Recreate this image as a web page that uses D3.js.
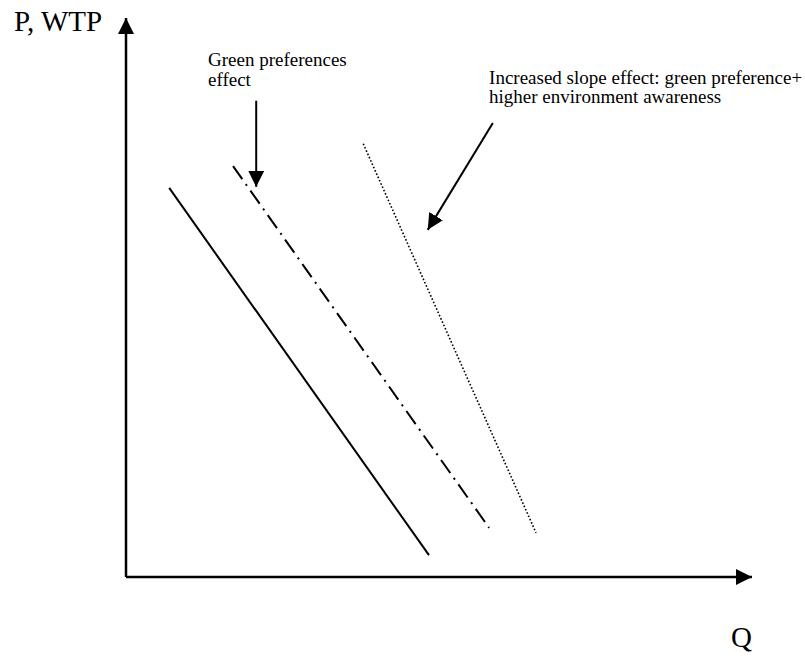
<!DOCTYPE html>
<html>
<head>
<meta charset="utf-8">
<script src="https://cdn.jsdelivr.net/npm/d3@7"></script>
<style>
  body { margin: 0; background: #fff; }
  text { font-family: "Liberation Serif", "Times New Roman", serif; fill: #000; }
</style>
</head>
<body>
<div class="content"></div>
<script>
const w = 805;
const h = 661;

// abstract units: Q and P both 0..100
const demandSolid = [[6.9, 69.6], [48.4, 3.9]];
const demandGreen = [[17.1, 73.5], [58.0, 8.8]];
const demandSlope = [[37.9, 77.5], [65.5, 7.9]];

const arrows = [
  [[20.8, 85.2], [20.8, 69.8]],
  [[58.6, 81.2], [48.2, 62.1]]
];

const notes = [
  { x: 13.1, y: 91.4, lines: ['Green preferences', 'effect'] },
  { x: 58.0, y: 88.2, lines: ['Increased slope effect: green preference+', 'higher environment awareness'] }
];

const svg = d3.select('.content').append('svg')
  .attr('width', w)
  .attr('height', h);

const xScale = d3.scaleLinear().domain([0, 100]).range([126, 752]);
const yScale = d3.scaleLinear().domain([0, 100]).range([577, 18]);

const defs = svg.append('defs');
defs.append('marker')
  .attr('id', 'head')
  .attr('markerUnits', 'userSpaceOnUse')
  .attr('viewBox', '0 0 16 16')
  .attr('refX', 16)
  .attr('refY', 8)
  .attr('markerWidth', 16)
  .attr('markerHeight', 16)
  .attr('orient', 'auto')
  .append('path')
  .attr('d', 'M0,0 L16,8 L0,16 Z')
  .attr('fill', '#000');

const line = d3.line()
  .x((d) => xScale(d[0]))
  .y((d) => yScale(d[1]));

// axes
svg.append('path')
  .attr('d', line([[0, 0], [0, 100]]))
  .attr('stroke', '#000')
  .attr('stroke-width', 2.5)
  .attr('fill', 'none')
  .attr('marker-end', 'url(#head)');

svg.append('path')
  .attr('d', line([[0, 0], [100, 0]]))
  .attr('stroke', '#000')
  .attr('stroke-width', 2.5)
  .attr('fill', 'none')
  .attr('marker-end', 'url(#head)');

svg.append('text')
  .attr('x', 14)
  .attr('y', 31)
  .style('font-size', '29px')
  .text('P, WTP');

svg.append('text')
  .attr('x', 731)
  .attr('y', 647)
  .style('font-size', '29px')
  .text('Q');

// demand curves
svg.append('path')
  .attr('d', line(demandSolid))
  .attr('stroke', '#000')
  .attr('stroke-width', 2)
  .attr('fill', 'none');

svg.append('path')
  .attr('d', line(demandGreen))
  .attr('stroke', '#000')
  .attr('stroke-width', 2)
  .attr('stroke-dasharray', '16,6,2,6')
  .attr('fill', 'none');

svg.append('path')
  .attr('d', line(demandSlope))
  .attr('stroke', '#000')
  .attr('stroke-width', 1.6)
  .attr('stroke-dasharray', '1.6,2')
  .attr('fill', 'none');

// annotation arrows
svg.selectAll('.arrow')
  .data(arrows)
  .enter()
  .append('path')
  .attr('class', 'arrow')
  .attr('d', (d) => line(d))
  .attr('stroke', '#000')
  .attr('stroke-width', 2)
  .attr('fill', 'none')
  .attr('marker-end', 'url(#head)');

const labels = svg.selectAll('.note')
  .data(notes)
  .enter()
  .append('text')
  .attr('class', 'note')
  .attr('x', (d) => xScale(d.x))
  .attr('y', (d) => yScale(d.y))
  .style('font-size', '19px');

labels.selectAll('tspan')
  .data((d) => d.lines.map((l) => ({ l: l, x: d.x })))
  .enter()
  .append('tspan')
  .attr('x', (d) => xScale(d.x))
  .attr('dy', (d, i) => i === 0 ? 0 : 19.5)
  .text((d) => d.l);
</script>
</body>
</html>
